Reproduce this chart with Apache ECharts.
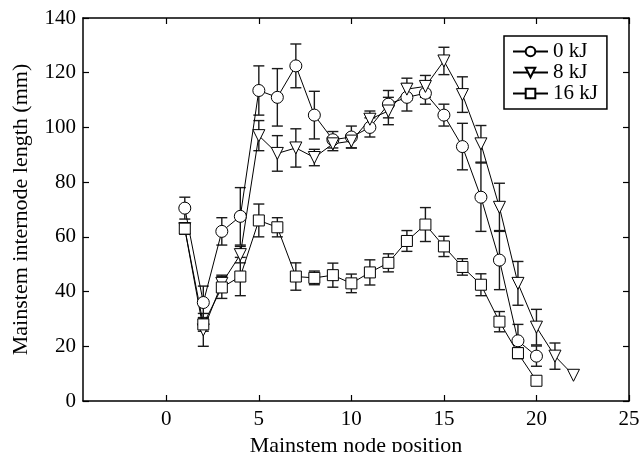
<!DOCTYPE html>
<html>
<head>
<meta charset="utf-8">
<script src="https://cdn.jsdelivr.net/npm/echarts@6/dist/echarts.min.js"></script>
<style>
html,body{margin:0;padding:0;background:#fff;}
#chart{width:642px;height:452px;}
</style>
</head>
<body>
<div id="chart"></div>
<script>
// ---- data ----
const nodes0 = [1,2,3,4,5,6,7,8,9,10,11,12,13,14,15,16,17,18,19,20];
const mean0  = [70.5,36,62,67.5,113.5,111,122.5,104.5,95.5,96.5,100,108.5,111,112.5,104.5,93,74.5,51.5,22,16.4];
const err0   = [4,6,5,10.5,9,10.5,8,8.7,3,4,3.5,5,5,4,4,8.5,12.5,10.8,6,3.7];

const nodes8 = [1,2,3,4,5,6,7,8,9,10,11,12,13,14,15,16,17,18,19,20,21,22];
const mean8  = [63,26,43,53.5,97,90.5,92.5,89,94,95,103,106,114,115,124.3,112,94,70.8,43,27,16.4,9.4];
const err8   = [2,6,3,3,5.5,6.5,7,3,2.5,2.5,3,5,4,4,5,6.5,6.7,8.8,8,6.5,4.8,0];

const nodes16 = [1,2,3,4,5,6,7,8,9,10,11,12,13,14,15,16,17,18,19,20];
const mean16  = [63,28,41.5,45.5,66,63.5,45.5,45,46,43,47,50.5,58.5,64.5,56.5,49,42.5,29,17.5,7.4];
const err16   = [2,2.5,4,7,6,3.5,5,2.5,4.4,3.4,4.6,3.3,3.8,6.2,3.7,3,4,3.7,2,0];

const xTicks = [0,5,10,15,20,25];
const names = ['0 kJ','8 kJ','16 kJ'];

// ---- build ----
const FONT = 'Liberation Serif';
function pts(xs, ys){ return xs.map((x,i)=>[x, ys[i]]); }
function errs(xs, ys, es){ return xs.map((x,i)=>[x, ys[i]-es[i], ys[i]+es[i]]); }

function errSeries(data){
  return {
    type:'custom', silent:true, z:1,
    renderItem:function(params, api){
      const x = api.value(0), lo = api.value(1), hi = api.value(2);
      if (hi - lo <= 0) return null;
      const pl = api.coord([x, lo]), ph = api.coord([x, hi]);
      const w = 5.5;
      const st = {stroke:'#1a1a1a', lineWidth:1.4};
      return {type:'group', children:[
        {type:'line', shape:{x1:pl[0],y1:pl[1],x2:ph[0],y2:ph[1]}, style:st},
        {type:'line', shape:{x1:pl[0]-w,y1:pl[1],x2:pl[0]+w,y2:pl[1]}, style:st},
        {type:'line', shape:{x1:ph[0]-w,y1:ph[1],x2:ph[0]+w,y2:ph[1]}, style:st}
      ]};
    },
    encode:{x:0, y:[1,2]},
    data:data
  };
}
function lineSeries(name, data, symbol, size, rot){
  return {
    name:name, type:'line', z:3, data:data,
    symbol:symbol, symbolSize:size, symbolRotate:rot, showAllSymbol:true,
    lineStyle:{color:'#000', width:1},
    itemStyle:{color:'#fff', borderColor:'#000', borderWidth:1},
    emphasis:{disabled:true}, animation:false
  };
}

const axisCommon = {
  axisLine:{show:true, onZero:false, lineStyle:{color:'#000', width:1.5}},
  axisTick:{show:true, inside:true, length:6, lineStyle:{color:'#000', width:1.2}},
  splitLine:{show:false}
};

const option = {
  animation:false,
  backgroundColor:'#fff',
  textStyle:{fontFamily:FONT},
  grid:{left:83, right:13, top:18, bottom:51, containLabel:false, outerBoundsMode:'none'},
  legend:{
    data:names.map(n=>({name:n})),
    orient:'vertical', left:504, top:36,
    backgroundColor:'#fff',
    borderColor:'#000', borderWidth:1.5, borderRadius:0,
    padding:[5,9,5,8], itemGap:0, itemWidth:35, itemHeight:12,
    textStyle:{fontFamily:FONT, fontSize:21, color:'#000', lineHeight:19}
  },
  xAxis:[
    Object.assign({}, axisCommon, {
      type:'value', min:-4.5, max:25, position:'bottom',
      axisTick:Object.assign({}, axisCommon.axisTick, {customValues:xTicks}),
      axisLabel:{customValues:xTicks, fontFamily:FONT, fontSize:21, color:'#000', margin:8},
      name:'Mainstem node position', nameLocation:'middle', nameGap:26,
      nameTextStyle:{fontFamily:FONT, fontSize:22, color:'#000'}
    }),
    Object.assign({}, axisCommon, {
      type:'value', min:-4.5, max:25, position:'top',
      axisTick:Object.assign({}, axisCommon.axisTick, {customValues:xTicks}),
      axisLabel:{show:false}
    })
  ],
  yAxis:[
    Object.assign({}, axisCommon, {
      type:'value', min:0, max:140, interval:20, position:'left',
      axisLabel:{fontFamily:FONT, fontSize:21, color:'#000', margin:7},
      name:'Mainstem internode length (mm)', nameLocation:'middle', nameGap:51,
      nameTextStyle:{fontFamily:FONT, fontSize:22, color:'#000'}
    }),
    Object.assign({}, axisCommon, {
      type:'value', min:0, max:140, interval:20, position:'right',
      axisLabel:{show:false}
    })
  ],
  series:[
    errSeries(errs(nodes0, mean0, err0)),
    errSeries(errs(nodes8, mean8, err8)),
    errSeries(errs(nodes16, mean16, err16)),
    lineSeries(names[0], pts(nodes0, mean0), 'circle', 12, 0),
    lineSeries(names[1], pts(nodes8, mean8), 'triangle', 12, 180),
    lineSeries(names[2], pts(nodes16, mean16), 'rect', 11, 0)
  ]
};

const chart = echarts.init(document.getElementById('chart'), null, {renderer:'canvas'});
chart.setOption(option);
</script>
</body>
</html>
